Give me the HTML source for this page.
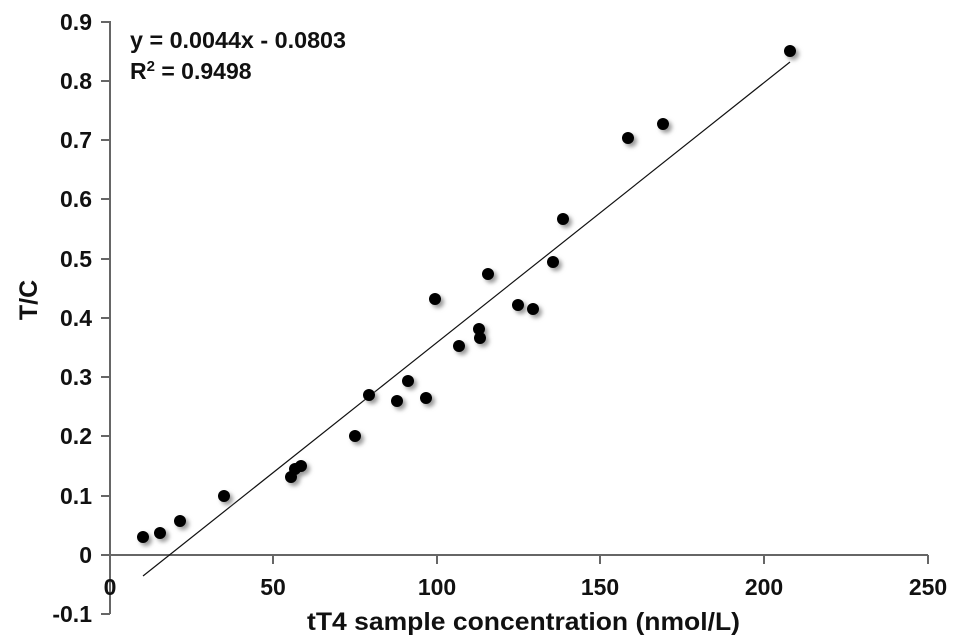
<!DOCTYPE html>
<html><head><meta charset="utf-8"><style>body{margin:0;background:#fff}svg{display:block}text{font-family:"Liberation Sans",sans-serif;fill:#111;font-weight:bold}</style></head><body>
<svg width="964" height="640" viewBox="0 0 964 640">
<defs><filter id="s" x="-50%" y="-50%" width="200%" height="200%"><feGaussianBlur stdDeviation="2"/></filter></defs>
<g stroke="#666" stroke-width="2" fill="none">
<line x1="110" y1="21" x2="110" y2="614"/>
<line x1="110" y1="555" x2="928" y2="555"/>
<path d="M101 22H110M101 81H110M101 140H110M101 199H110M101 259H110M101 318H110M101 377H110M101 436H110M101 496H110M101 555H110M101 614H110"/>
<path d="M273 555V564M437 555V564M600 555V564M764 555V564M928 555V564"/>
</g>
<g font-size="23" text-anchor="end">
<text x="92" y="30">0.9</text><text x="92" y="89">0.8</text><text x="92" y="148">0.7</text><text x="92" y="207">0.6</text><text x="92" y="267">0.5</text><text x="92" y="326">0.4</text><text x="92" y="385">0.3</text><text x="92" y="444">0.2</text><text x="92" y="504">0.1</text><text x="92" y="563">0</text><text x="92" y="622">-0.1</text>
</g>
<g font-size="23" text-anchor="middle">
<text x="110" y="595">0</text><text x="273" y="595">50</text><text x="437" y="595">100</text><text x="600" y="595">150</text><text x="764" y="595">200</text><text x="928" y="595">250</text>
<text x="307" y="630" text-anchor="start" font-size="25" textLength="433" lengthAdjust="spacingAndGlyphs">tT4 sample concentration (nmol/L)</text>
<text transform="translate(37,300) rotate(-90)" font-size="25">T/C</text>
</g>
<text x="130" y="48" font-size="23" textLength="216" lengthAdjust="spacingAndGlyphs">y = 0.0044x - 0.0803</text>
<text x="130" y="79" font-size="23">R<tspan font-size="15" dy="-8">2</tspan><tspan dy="8"> = 0.9498</tspan></text>
<line x1="143" y1="576" x2="790" y2="62" stroke="#111" stroke-width="1.2"/>
<g fill="#999" filter="url(#s)" transform="translate(3,3)">
<circle cx="143" cy="537" r="6"/><circle cx="160" cy="533" r="6"/><circle cx="180" cy="521" r="6"/><circle cx="224" cy="496" r="6"/><circle cx="291" cy="477" r="6"/><circle cx="295" cy="469" r="6"/><circle cx="301" cy="466" r="6"/><circle cx="355" cy="436" r="6"/><circle cx="369" cy="395" r="6"/><circle cx="397" cy="401" r="6"/><circle cx="408" cy="381" r="6"/><circle cx="426" cy="398" r="6"/><circle cx="435" cy="299" r="6"/><circle cx="459" cy="346" r="6"/><circle cx="479" cy="329" r="6"/><circle cx="480" cy="338" r="6"/><circle cx="488" cy="274" r="6"/><circle cx="518" cy="305" r="6"/><circle cx="533" cy="309" r="6"/><circle cx="553" cy="262" r="6"/><circle cx="563" cy="219" r="6"/><circle cx="628" cy="138" r="6"/><circle cx="663" cy="124" r="6"/><circle cx="790" cy="51" r="6"/>
</g>
<g fill="#000">
<circle cx="143" cy="537" r="6"/><circle cx="160" cy="533" r="6"/><circle cx="180" cy="521" r="6"/><circle cx="224" cy="496" r="6"/><circle cx="291" cy="477" r="6"/><circle cx="295" cy="469" r="6"/><circle cx="301" cy="466" r="6"/><circle cx="355" cy="436" r="6"/><circle cx="369" cy="395" r="6"/><circle cx="397" cy="401" r="6"/><circle cx="408" cy="381" r="6"/><circle cx="426" cy="398" r="6"/><circle cx="435" cy="299" r="6"/><circle cx="459" cy="346" r="6"/><circle cx="479" cy="329" r="6"/><circle cx="480" cy="338" r="6"/><circle cx="488" cy="274" r="6"/><circle cx="518" cy="305" r="6"/><circle cx="533" cy="309" r="6"/><circle cx="553" cy="262" r="6"/><circle cx="563" cy="219" r="6"/><circle cx="628" cy="138" r="6"/><circle cx="663" cy="124" r="6"/><circle cx="790" cy="51" r="6"/>
</g>
</svg>
</body></html>
